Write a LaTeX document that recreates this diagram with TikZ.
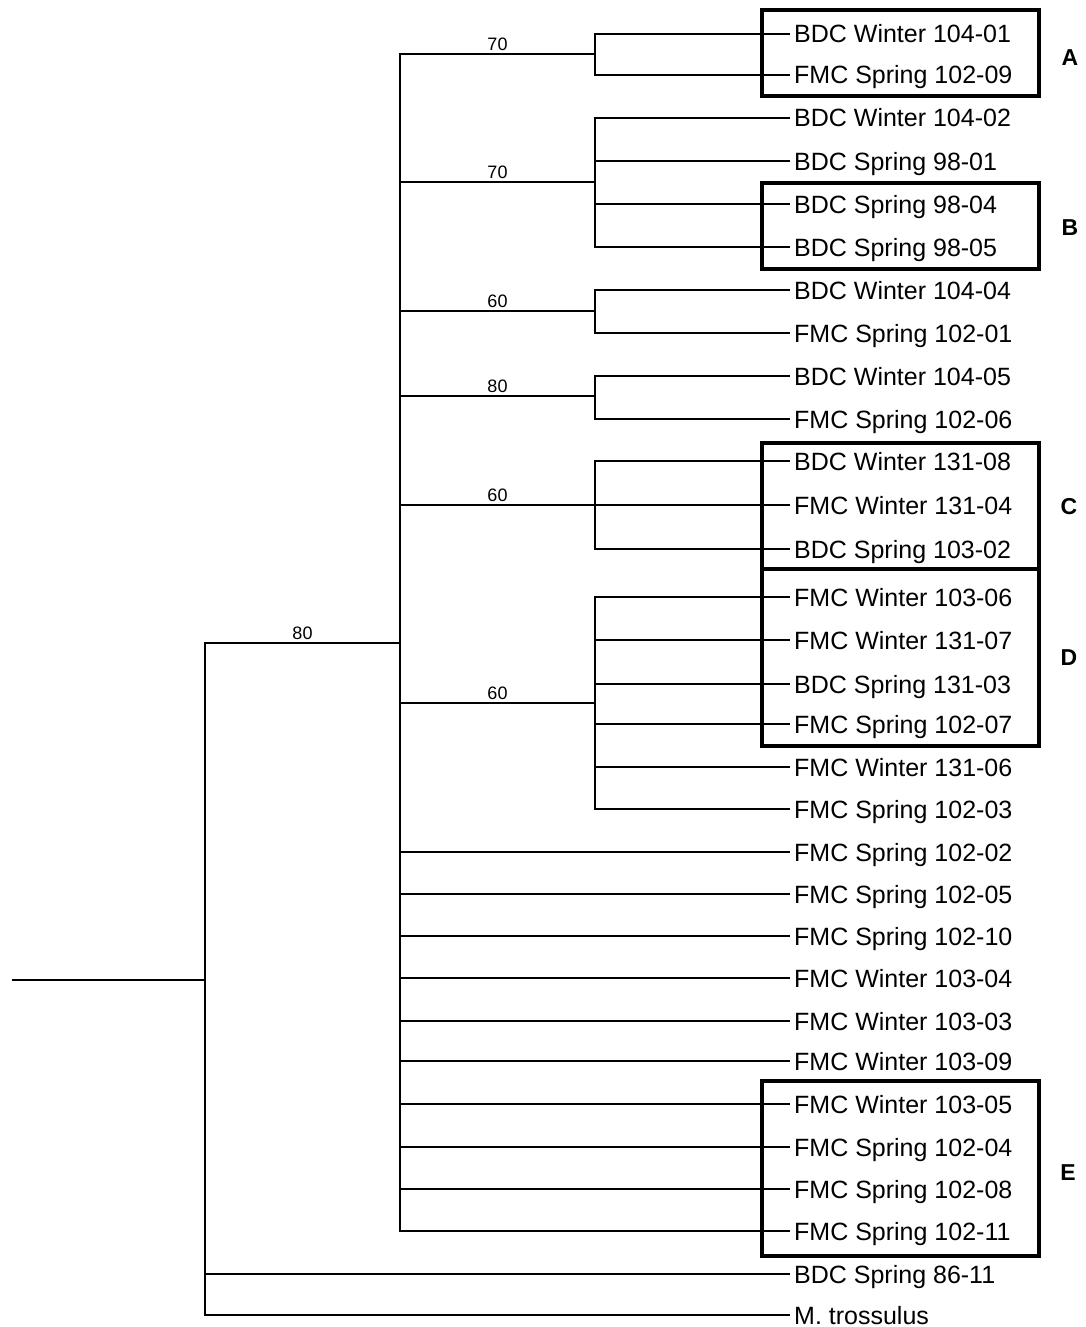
\documentclass[tikz,border=0pt]{standalone}
\usepackage{fontspec}
\setmainfont{Liberation Sans}
\usetikzlibrary{positioning}

\begin{document}
\begin{tikzpicture}[x=1pt,y=-1pt]
\tikzset{
  leaf/.style={anchor=west,inner xsep=4pt,inner ysep=0pt,text height=18pt,text depth=0pt,font=\fontsize{25}{28}\selectfont},
  branch/.style={line width=1.9pt},
  support/.style={above,inner sep=2pt,font=\fontsize{18}{20}\selectfont},
  cladebox/.style={line width=3.2pt},
  cladename/.style={inner sep=0pt,font=\fontsize{23}{26}\selectfont\bfseries}
}
\useasboundingbox (0,0) rectangle (1085,1327);
% leaves
\node[leaf] (l_1) at (790,34) {BDC Winter 104-01};
\node[leaf] (l_2) at (790,75) {FMC Spring 102-09};
\node[leaf] (l_3) at (790,118) {BDC Winter 104-02};
\node[leaf] (l_4) at (790,161) {BDC Spring 98-01};
\node[leaf] (l_5) at (790,204) {BDC Spring 98-04};
\node[leaf] (l_6) at (790,247) {BDC Spring 98-05};
\node[leaf] (l_7) at (790,290) {BDC Winter 104-04};
\node[leaf] (l_8) at (790,333) {FMC Spring 102-01};
\node[leaf] (l_9) at (790,376) {BDC Winter 104-05};
\node[leaf] (l_10) at (790,419) {FMC Spring 102-06};
\node[leaf] (l_11) at (790,461) {BDC Winter 131-08};
\node[leaf] (l_12) at (790,505) {FMC Winter 131-04};
\node[leaf] (l_13) at (790,549) {BDC Spring 103-02};
\node[leaf] (l_14) at (790,597) {FMC Winter 103-06};
\node[leaf] (l_15) at (790,640) {FMC Winter 131-07};
\node[leaf] (l_16) at (790,684) {BDC Spring 131-03};
\node[leaf] (l_17) at (790,724) {FMC Spring 102-07};
\node[leaf] (l_18) at (790,767) {FMC Winter 131-06};
\node[leaf] (l_19) at (790,809) {FMC Spring 102-03};
\node[leaf] (l_20) at (790,852) {FMC Spring 102-02};
\node[leaf] (l_21) at (790,894) {FMC Spring 102-05};
\node[leaf] (l_22) at (790,936) {FMC Spring 102-10};
\node[leaf] (l_23) at (790,978) {FMC Winter 103-04};
\node[leaf] (l_24) at (790,1021) {FMC Winter 103-03};
\node[leaf] (l_25) at (790,1061) {FMC Winter 103-09};
\node[leaf] (l_26) at (790,1104) {FMC Winter 103-05};
\node[leaf] (l_27) at (790,1147) {FMC Spring 102-04};
\node[leaf] (l_28) at (790,1189) {FMC Spring 102-08};
\node[leaf] (l_29) at (790,1231) {FMC Spring 102-11};
\node[leaf] (l_30) at (790,1274) {BDC Spring 86-11};
\node[leaf] (l_31) at (790,1315) {M. trossulus};
% internal nodes
\coordinate (n_root) at (12,980);
\coordinate (n_r) at (205,980);
\coordinate (n_m) at (400,643);
\coordinate (n_1) at (595,54);
\coordinate (n_2) at (595,182);
\coordinate (n_3) at (595,311);
\coordinate (n_4) at (595,396);
\coordinate (n_5) at (595,505);
\coordinate (n_6) at (595,703);
% branches
\draw[branch] (n_root) -- (n_r);
\draw[branch] (n_r) |- (n_m) node[support,pos=0.75] {80};
\draw[branch] (n_r) |- (l_30.west);
\draw[branch] (n_r) |- (l_31.west);
\draw[branch] (n_m) |- (n_1) node[support,pos=0.75] {70};
\draw[branch] (n_m) |- (n_2) node[support,pos=0.75] {70};
\draw[branch] (n_m) |- (n_3) node[support,pos=0.75] {60};
\draw[branch] (n_m) |- (n_4) node[support,pos=0.75] {80};
\draw[branch] (n_m) |- (n_5) node[support,pos=0.75] {60};
\draw[branch] (n_m) |- (n_6) node[support,pos=0.75] {60};
\draw[branch] (n_1) |- (l_1.west);
\draw[branch] (n_1) |- (l_2.west);
\draw[branch] (n_2) |- (l_3.west);
\draw[branch] (n_2) |- (l_4.west);
\draw[branch] (n_2) |- (l_5.west);
\draw[branch] (n_2) |- (l_6.west);
\draw[branch] (n_3) |- (l_7.west);
\draw[branch] (n_3) |- (l_8.west);
\draw[branch] (n_4) |- (l_9.west);
\draw[branch] (n_4) |- (l_10.west);
\draw[branch] (n_5) |- (l_11.west);
\draw[branch] (n_5) -- (l_12.west);
\draw[branch] (n_5) |- (l_13.west);
\draw[branch] (n_6) |- (l_14.west);
\draw[branch] (n_6) |- (l_15.west);
\draw[branch] (n_6) |- (l_16.west);
\draw[branch] (n_6) |- (l_17.west);
\draw[branch] (n_6) |- (l_18.west);
\draw[branch] (n_6) |- (l_19.west);
\draw[branch] (n_m) |- (l_20.west);
\draw[branch] (n_m) |- (l_21.west);
\draw[branch] (n_m) |- (l_22.west);
\draw[branch] (n_m) |- (l_23.west);
\draw[branch] (n_m) |- (l_24.west);
\draw[branch] (n_m) |- (l_25.west);
\draw[branch] (n_m) |- (l_26.west);
\draw[branch] (n_m) |- (l_27.west);
\draw[branch] (n_m) |- (l_28.west);
\draw[branch] (n_m) |- (l_29.west);
% clade boxes
\draw[cladebox] (762,10) rectangle (1039,96);
\draw[cladebox] (762,183) rectangle (1039,269);
\draw[cladebox] (762,443) rectangle (1039,569);
\draw[cladebox] (762,569) rectangle (1039,746);
\draw[cladebox] (762,1081) rectangle (1039,1256);
\node[cladename] (c_A) at (1070,58) {A};
\node[cladename] (c_B) at (1070,228) {B};
\node[cladename] (c_C) at (1069,507) {C};
\node[cladename] (c_D) at (1069,658) {D};
\node[cladename] (c_E) at (1068,1173) {E};
\end{tikzpicture}
\end{document}
